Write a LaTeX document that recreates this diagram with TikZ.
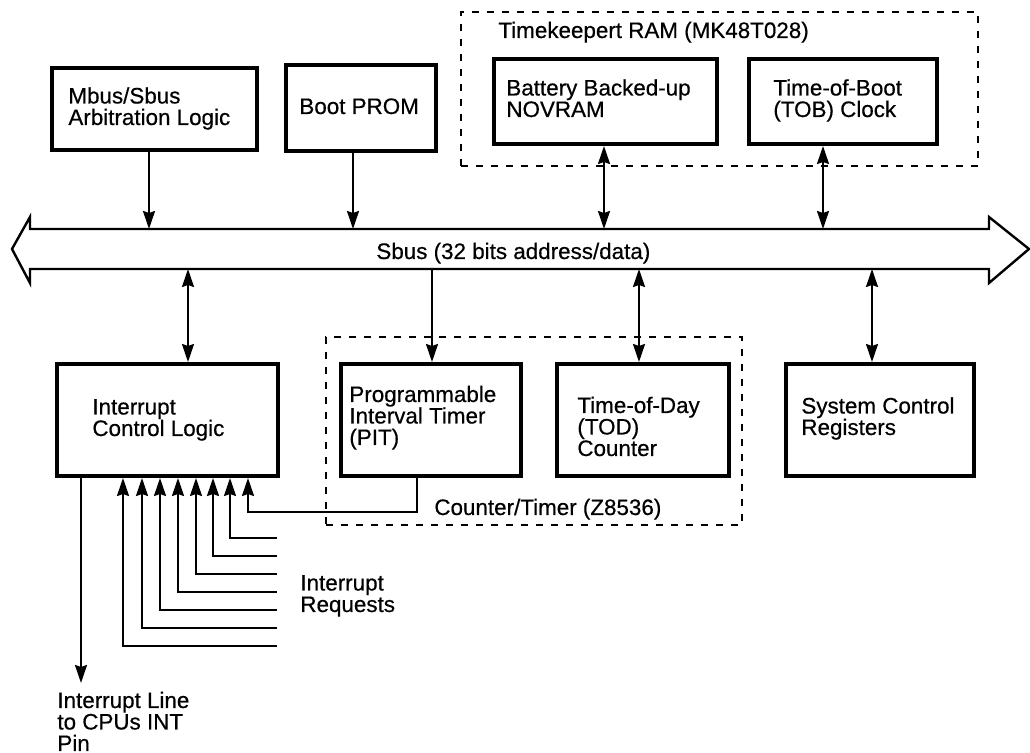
\documentclass[tikz,border=0pt]{standalone}
\usepackage{fontspec}
\setmainfont{Liberation Sans}
\newfontfamily\diagfont{Liberation Sans}[FakeBold=0.5]
\usetikzlibrary{arrows.meta,calc}
\begin{document}
\begin{tikzpicture}[x=0.5pt,y=-0.5pt,
  box/.style={draw,line width=2pt,inner sep=0pt},
  grp/.style={draw,line width=1pt,dash pattern=on 3.5pt off 4pt,inner sep=0pt},
  txt/.style={anchor=base west,inner sep=0pt,align=left,font=\diagfont\fontsize{11.2}{10.75}\selectfont},
  tip/.tip={Stealth[length=9pt,width=6pt,inset=1pt]},
  arr/.style={line width=1pt,-tip},
  darr/.style={line width=1pt,tip-tip},
  busline/.style={line width=1.2pt,line join=miter}]
\useasboundingbox (0,0) rectangle (1030,753);

% groups
\node[grp,minimum width=258.5pt,minimum height=77pt] (tk) at (719.5,89) {};
\node[grp,minimum width=208pt,minimum height=94pt] (ct) at (534,431) {};

% boxes
\node[box,minimum width=102.5pt,minimum height=41pt] (mbus) at (154.5,109) {};
\node[box,minimum width=75pt,minimum height=43pt] (boot) at (361,108) {};
\node[box,minimum width=111.5pt,minimum height=42.5pt] (batt) at (605.5,101.5) {};
\node[box,minimum width=94pt,minimum height=42.5pt] (tob) at (843,101.5) {};
\node[box,minimum width=110.5pt,minimum height=56pt] (icl) at (167.5,420) {};
\node[box,minimum width=90pt,minimum height=56pt] (pit) at (431,420) {};
\node[box,minimum width=86pt,minimum height=56pt] (tod) at (643,420) {};
\node[box,minimum width=94pt,minimum height=56pt] (scr) at (880,420) {};

% bus
\node[inner sep=0pt,outer sep=0pt,minimum width=479.5pt,minimum height=20pt] (bus) at (509.5,249) {};
\draw[busline] (bus.north west) -- (bus.north east) -- ++(0,-12) -- ($(bus.east)+(40,0)$)
  -- ($(bus.south east)+(0,14)$) -- (bus.south east) -- (bus.south west) -- ++(0,14)
  -- ($(bus.west)+(-18,0)$) -- ($(bus.north west)+(0,-12)$) -- cycle;

% texts (anchor = baseline of the last line)
\node[txt] (tkt) at (498,38) {Timekeepert RAM (MK48T028)};
\node[txt] (mbust) at (68,125) {Mbus/Sbus\\Arbitration Logic};
\node[txt] (boott) at (299,114) {Boot PROM};
\node[txt] (battt) at (506,117) {Battery Backed-up\\NOVRAM};
\node[txt] (tobt) at (773,117) {Time-of-Boot\\(TOB) Clock};
\node[txt] (bust) at (376,259) {Sbus (32 bits address/data)};
\node[txt] (iclt) at (92,436) {Interrupt\\Control Logic};
\node[txt] (pitt) at (349,445) {Programmable\\Interval Timer\\(PIT)};
\node[txt] (todt) at (577,456) {Time-of-Day\\(TOD)\\Counter};
\node[txt] (scrt) at (801,435) {System Control\\Registers};
\node[txt] (ctt) at (434,515) {Counter/Timer (Z8536)};
\node[txt] (irqt) at (300,612) {Interrupt\\Requests};
\node[txt] (outt) at (57,751) {Interrupt Line\\to CPUs INT\\Pin};

% connectors to bus (top)
\coordinate (m1) at ($(mbus.south)+(-5.5,0)$);
\draw[arr] (m1) -- (m1 |- bus.north);
\coordinate (b1) at ($(boot.south)+(-8,0)$);
\draw[arr] (b1) -- (b1 |- bus.north);
\coordinate (n1) at ($(batt.south)+(-1.5,0)$);
\draw[darr] (n1) -- (n1 |- bus.north);
\coordinate (t1) at ($(tob.south)+(-20,0)$);
\draw[darr] (t1) -- (t1 |- bus.north);

% connectors from bus (bottom)
\coordinate (i1) at ($(icl.north)+(20.5,0)$);
\draw[darr] (i1 |- bus.south) -- (i1);
\coordinate (p1) at ($(pit.north)+(1,0)$);
\draw[arr] (p1 |- bus.south) -- (p1);
\coordinate (d1) at ($(tod.north)+(-4,0)$);
\draw[darr] (d1 |- bus.south) -- (d1);
\coordinate (s1) at ($(scr.north)+(-8,0)$);
\draw[darr] (s1 |- bus.south) -- (s1);

% PIT to interrupt logic
\coordinate (p2) at ($(pit.south)+(-14,0)$);
\coordinate (i9) at ($(icl.south west)+(193,0)$);
\draw[arr] (p2) -- ++(0,34) -| (i9);

% interrupt requests
\foreach \dx/\yy [count=\k] in {175/538,158/556,141/574,123/592,105/610,87/628,68/646}{
  \coordinate (r\k) at (277,\yy);
  \draw[arr] (r\k) -| ($(icl.south west)+(\dx,0)$);
}

% output line
\coordinate (out) at (81,683);
\draw[arr] (out |- icl.south) -- (out);
\end{tikzpicture}
\end{document}
